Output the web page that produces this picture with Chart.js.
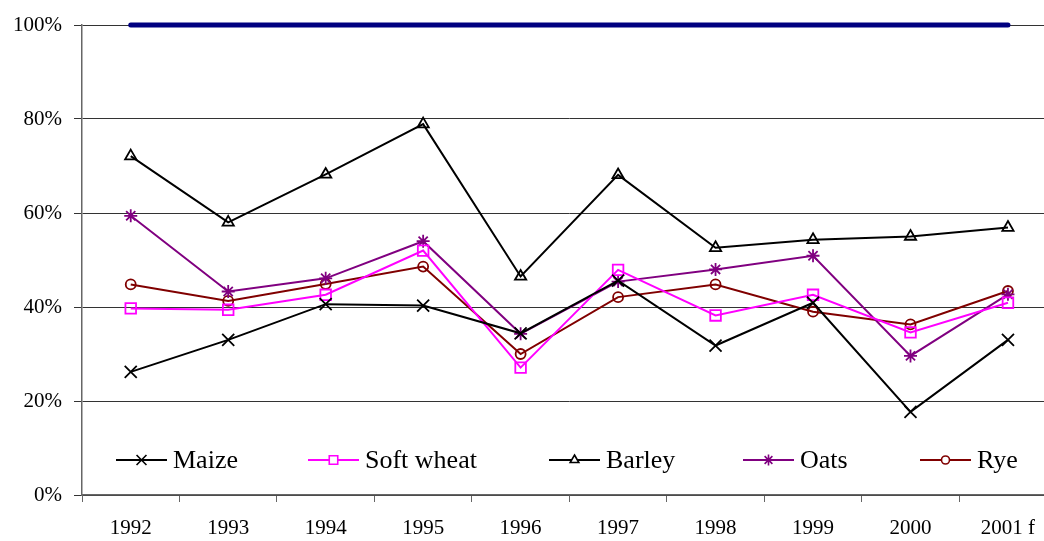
<!DOCTYPE html>
<html>
<head>
<meta charset="utf-8">
<script src="https://cdn.jsdelivr.net/npm/chart.js@4/dist/chart.umd.min.js"></script>
<style>
  html, body { margin:0; padding:0; background:#fff; overflow:hidden; }
  #wrap { width:1044px; height:541px; overflow:hidden; }
</style>
</head>
<body>
<div id="wrap"><canvas id="myChart" width="1067" height="541"></canvas></div>
<script>
// years on the x axis
var years = ['1992','1993','1994','1995','1996','1997','1998','1999','2000','2001 f'];

// percentages
var maize      = [26.2, 33.0, 40.6, 40.3, 34.4, 45.6, 31.8, 40.9, 17.7, 33.0];
var softWheat  = [39.7, 39.4, 42.6, 52.0, 27.1, 47.9, 38.2, 42.6, 34.6, 40.9];
var barley     = [72.1, 58.0, 68.2, 78.9, 46.5, 68.1, 52.6, 54.3, 55.0, 56.9];
var oats       = [59.4, 43.3, 46.1, 54.0, 34.3, 45.4, 48.0, 50.9, 29.6, 42.7];
var rye        = [44.8, 41.3, 44.9, 48.6, 30.0, 42.1, 44.8, 39.0, 36.3, 43.4];
var full       = [100, 100, 100, 100, 100, 100, 100, 100, 100, 100];

var yTicks = [0, 20, 40, 60, 80, 100];

var serif = "'Liberation Serif', 'Times New Roman', serif";
Chart.defaults.font.family = serif;
Chart.defaults.color = '#000';

function series(label, data, color, style, radius, legendRadius){
  return {
    label: label, data: data,
    borderColor: color, backgroundColor: 'rgba(0,0,0,0)',
    borderWidth: 2, pointStyle: style, pointRadius: radius,
    pointBorderColor: color, pointBackgroundColor: 'rgba(0,0,0,0)',
    pointBorderWidth: 1.8, tension: 0, legendRadius: legendRadius
  };
}

var sets = [
  series('Maize', maize, '#000000', 'crossRot', 8.5, 7),
  series('Soft wheat', softWheat, '#FF00FF', 'rect', 7.5, 6),
  series('Barley', barley, '#000000', 'triangle', 6.5, 5),
  series('Oats', oats, '#800080', 'star', 6.5, 5.5),
  series('Rye', rye, '#800000', 'circle', 5, 4)
];
sets.push({
  label: '100%', data: full, borderColor: '#000080', borderWidth: 5,
  borderCapStyle: 'round', pointRadius: 0, clip: false, skipLegend: true
});

// legend drawn inside the plot, line + marker like the original
var legendStarts = [116, 308, 549, 743, 920];
var innerLegend = {
  id: 'innerLegend',
  afterDraw: function(chart){
    var ctx = chart.ctx;
    ctx.save();
    ctx.font = '26px ' + serif;
    ctx.textBaseline = 'alphabetic';
    var y = 460;
    chart.data.datasets.forEach(function(ds, i){
      if (ds.skipLegend) return;
      var x0 = legendStarts[i];
      ctx.strokeStyle = ds.borderColor;
      ctx.lineWidth = 2;
      ctx.beginPath();
      ctx.moveTo(x0, y); ctx.lineTo(x0 + 51, y);
      ctx.stroke();
      ctx.fillStyle = '#fff';
      ctx.lineWidth = 1.6;
      Chart.helpers.drawPoint(ctx, {pointStyle: ds.pointStyle, radius: ds.legendRadius, borderWidth: 1.6}, x0 + 25.5, y);
      ctx.fillStyle = '#000';
      ctx.fillText(ds.label, x0 + 57, 468);
    });
    ctx.restore();
  }
};

var ctxx = document.getElementById('myChart').getContext('2d');
var chart = new Chart(ctxx, {
  type: 'line',
  data: { labels: years, datasets: sets },
  options: {
    responsive: false,
    animation: false,
    layout: { padding: { top: 25, right: 0, left: 0, bottom: 0 } },
    plugins: { legend: { display: false }, tooltip: { enabled: false } },
    scales: {
      x: {
        offset: true,
        grid: { offset: true, drawOnChartArea: false, drawTicks: true, tickLength: 7, color: '#666' },
        border: { display: true, color: '#666', width: 1.5 },
        ticks: { font: { size: 21 }, padding: 14, maxRotation: 0, color: '#000' },
        afterFit: function(s){ s.height = 46; s.paddingLeft = 0; s.paddingRight = 0; }
      },
      y: {
        min: 0, max: 100,
        afterBuildTicks: function(s){ s.ticks = yTicks.map(function(v){ return {value: v}; }); },
        grid: { color: '#333', lineWidth: 1, drawTicks: true, tickLength: 8 },
        border: { display: true, color: '#666', width: 1.5 },
        ticks: { font: { size: 21 }, padding: 12, color: '#000',
                 callback: function(v){ return v + '%'; } },
        afterFit: function(s){ s.width = 82; s.paddingTop = 0; s.paddingBottom = 0; }
      }
    }
  },
  plugins: [innerLegend]
});
</script>
</body>
</html>
